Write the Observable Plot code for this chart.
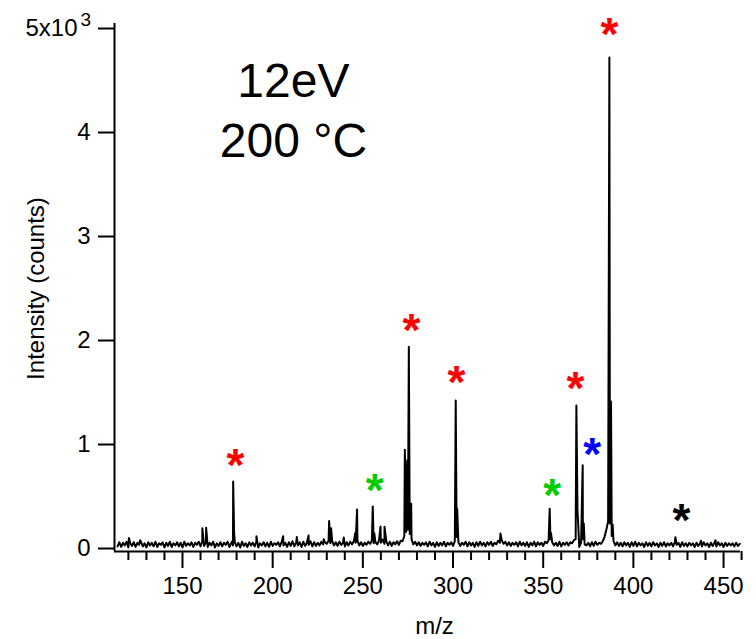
<!DOCTYPE html>
<html>
<head>
<meta charset="utf-8">
<script src="https://cdn.jsdelivr.net/npm/d3@7"></script>
<script src="https://cdn.jsdelivr.net/npm/@observablehq/plot@0.6"></script>
<style>
  html, body { margin: 0; padding: 0; background: #fff; }
  #chart { width: 756px; height: 639px; }
</style>
</head>
<body>
<div id="chart"></div>
<script>
// ---- Data ----
// baseline noise, one value per m/z unit, starting at m/z 114
const baselineStart = 114;
const baseline = [
  20,60,15,55,30,65,10,50,25,60,
  15,55,35,65,20,50,10,60,30,55,
  20,65,15,50,35,60,10,55,25,65,
  15,50,30,60,20,55,10,65,25,50,
  30,60,15,55,35,65,20,70,25,60,
  15,55,30,65,10,50,25,60,20,55,
  35,65,15,50,30,60,20,55,10,65,
  25,50,15,60,30,55,20,65,10,50,
  30,60,20,55,15,65,25,50,35,60,
  20,65,30,55,15,60,25,70,20,55,
  30,60,15,65,25,55,35,70,20,60,
  25,55,30,65,40,60,45,75,50,70,
  30,60,25,65,35,55,20,60,30,65,
  40,70,55,75,30,60,25,55,35,65,
  45,75,50,60,40,80,55,85,45,70,
  30,65,25,60,40,70,35,75,70,120,
  160,180,140,90,40,65,30,60,25,55,
  35,60,20,65,30,55,15,60,25,55,
  30,65,20,55,35,60,25,70,110,60,
  25,55,35,65,20,60,30,55,15,60,
  25,65,30,55,20,60,35,65,25,55,
  40,75,55,80,45,65,30,60,25,55,
  35,60,20,65,30,55,25,60,15,55,
  30,65,20,60,35,55,25,65,50,80,
  90,60,30,55,25,65,20,55,35,60,
  30,60,50,80,90,380,15,55,90,40,
  30,55,20,60,25,65,35,55,45,70,
  110,180,260,240,120,70,30,60,25,55,
  20,60,30,55,15,60,25,65,20,55,
  30,50,15,60,25,55,20,60,30,50,
  15,55,25,60,20,50,30,55,20,60,
  35,55,15,60,25,50,20,55,30,50,
  15,55,25,50,20,60,30,50,15,55,
  25,55,20,60,30,50,15,55,25,50,
  30,50,20,55,25,45
];
// peaks: m/z and intensity (counts)
const peakMz = [120.3,126.5,161.0,163.1,177.6,178.1,178.6,191.0,205.8,213.4,219.9,228.3,231.3,232.4,239.4,245.8,246.8,255.5,256.3,259.8,262.0,273.3,274.6,275.5,276.8,301.5,302.3,326.3,353.6,354.3,368.4,371.9,372.5,386.7,387.6,388.5,423.3,437.5,445.5];
const peakI  = [100,80,195,200,70,645,160,118,118,110,125,90,265,195,106,150,375,404,150,212,210,949,846,1940,430,1423,385,144,382,150,1375,800,240,4720,1413,230,109,75,80];

// asterisk markers
const starMz    = [179.4, 256.6, 277.0, 301.9, 355.0, 367.9, 377.2, 386.8, 426.7];
const starI     = [865, 628, 2163, 1663, 577, 1609, 974, 5010, 337];
const starColor = ["#ff0000","#00cc00","#ff0000","#ff0000","#00cc00","#ff0000","#0000ff","#ff0000","#000000"];

// annotation
const noteText = ["12eV", "200 °C"];
const noteMz   = [211.5, 211.5];
const noteI    = [4337, 3769];

// axes
const xDomain = [112.3, 459.4];
const yDomain = [0, 5000];
const xMajor = [150, 200, 250, 300, 350, 400, 450];
const xMinor = [120,130,140,160,170,180,190,210,220,230,240,260,270,280,290,310,320,330,340,360,370,380,390,410,420,430,440,460];
const yTicks = [0, 1000, 2000, 3000, 4000, 5000];
const yTickLabels = ["0", "1", "2", "3", "4", ""];
const yTopMantissa = "5x10";
const yTopExponent = "3";

// ---- build series ----
const spectrum = baseline.map((v, k) => ({mz: baselineStart + k, i: v}))
  .concat(peakMz.map((m, k) => ({mz: m, i: peakI[k]})))
  .sort((a, b) => a.mz - b.mz);
const stars = starMz.map((m, k) => ({mz: m, i: starI[k], c: starColor[k]}));
const notes = noteText.map((t, k) => ({t, mz: noteMz[k], i: noteI[k]}));

const font = "'Liberation Sans', Arial, sans-serif";

const chart = Plot.plot({
  width: 756,
  height: 639,
  marginLeft: 114,
  marginRight: 16,
  marginTop: 28,
  marginBottom: 91,
  x: {domain: xDomain},
  y: {domain: yDomain},
  style: {fontFamily: font, fontSize: "24px", color: "#000", background: "#fff", overflow: "visible"},
  marks: [
    Plot.line(spectrum, {x: "mz", y: "i", stroke: "#000", strokeWidth: 2}),
    Plot.ruleX([xDomain[0]], {stroke: "#000", strokeWidth: 2, insetTop: -5, insetBottom: -3}),
    Plot.ruleY([0], {stroke: "#000", strokeWidth: 2, dy: 3}),
    Plot.axisX({ticks: xMinor, tickSize: 9, text: null, label: null, dy: 3, strokeWidth: 2}),
    Plot.axisX({ticks: xMajor, tickSize: 17, tickPadding: 8, label: null, dy: 3, strokeWidth: 2, fontSize: 24}),
    Plot.axisY({ticks: yTicks, tickSize: 16, tickPadding: 8, label: null, strokeWidth: 2, fontSize: 24,
      tickFormat: d => yTickLabels[yTicks.indexOf(d)]}),
    Plot.text([yTopMantissa], {x: xDomain[0], y: yDomain[1], textAnchor: "end", dx: -37, fontSize: 24}),
    Plot.text([yTopExponent], {x: xDomain[0], y: yDomain[1], textAnchor: "start", dx: -34, dy: -9, fontSize: 19}),
    Plot.text(["m/z"], {frameAnchor: "bottom", dx: 7, dy: 85, fontSize: 24}),
    Plot.text(["Intensity (counts)"], {frameAnchor: "left", textAnchor: "middle", rotate: -90, dx: -78, fontSize: 24}),
    Plot.text(notes, {x: "mz", y: "i", text: "t", fontSize: 48, lineAnchor: "bottom"}),
    Plot.text(stars, {x: "mz", y: "i", text: () => "*", fill: "c", fontSize: 46, fontWeight: "bold", dy: 8})
  ]
});
document.getElementById("chart").appendChild(chart);
</script>
</body>
</html>
